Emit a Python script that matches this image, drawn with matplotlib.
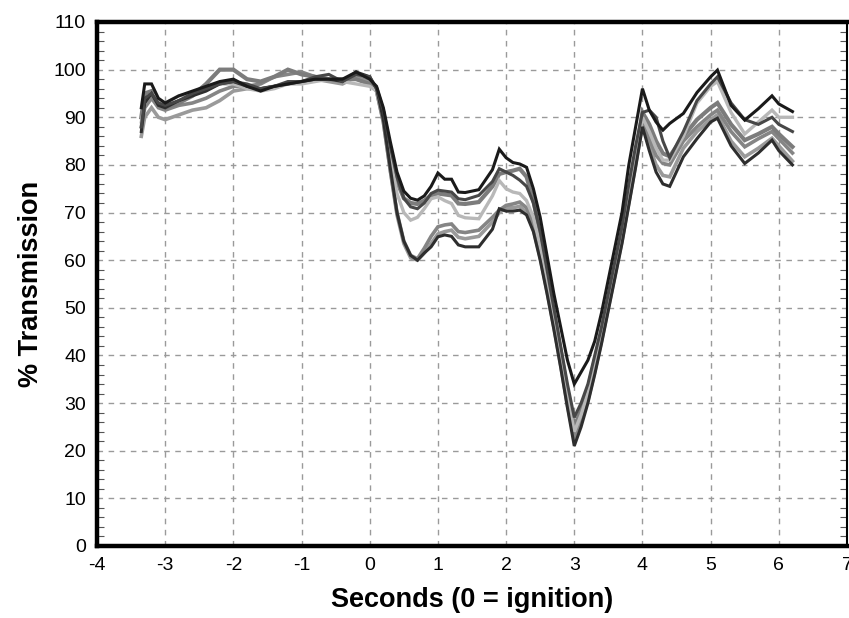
import matplotlib
matplotlib.use("Agg")
import matplotlib.pyplot as plt
from matplotlib.ticker import MultipleLocator

# ---- data ----
t = [-3.35, -3.3, -3.2, -3.1, -3.0, -2.8, -2.6, -2.4, -2.2, -2.0,
     -1.8, -1.6, -1.4, -1.2, -1.0, -0.8, -0.6, -0.4, -0.2, 0.0,
     0.1, 0.2, 0.3, 0.4, 0.5, 0.6, 0.7, 0.8, 0.9, 1.0,
     1.1, 1.2, 1.3, 1.4, 1.6, 1.8, 1.9, 2.0,
     2.1, 2.2, 2.3, 2.4, 2.5, 2.6, 2.7, 2.8, 2.9, 3.0,
     3.1, 3.2, 3.3, 3.4, 3.5, 3.6, 3.7, 3.8, 3.9, 4.0,
     4.1, 4.2, 4.3, 4.4, 4.6, 4.8, 5.0, 5.1, 5.3, 5.5, 5.7, 5.9, 6.0, 6.2]

run_a = [92, 97, 97, 94, 93, 94.5, 95.5, 96.5, 97.5, 98,
         96.5, 95.5, 96.5, 97, 97.5, 98, 98, 98, 99.5, 98,
         96.5, 92, 85, 78.5, 74.5, 73, 72.6, 73.5, 75.5, 78.3,
         77, 77, 74.3, 74.2, 74.8, 79, 83.3, 81.5,
         80.5, 80.2, 79.5, 75, 69, 61, 53, 46, 39, 34,
         36.5, 39, 43, 49, 56, 63, 70, 80, 88, 96,
         91.5, 89, 87.3, 88.7, 90.8, 95.2, 98.5, 99.9, 92.5, 89.4, 91.8, 94.5, 92.8, 91.2]

run_b = [88, 94, 95, 93, 92.5, 93.5, 95, 96, 97, 97.5,
         97, 96, 96.5, 97.5, 97.5, 98.5, 99, 97.5, 99, 98.5,
         96, 91.5, 84, 77.5, 73, 71.2, 70.8, 72, 74, 74.7,
         74.5, 74.3, 72.9, 72.7, 73.6, 76.5, 79.2, 78.5,
         77.8, 76.8, 75.5, 72, 66, 58, 50, 42, 34, 27,
         30, 34, 40, 46, 53, 60, 67, 76, 84, 91,
         91.5, 90, 85, 81.5, 87, 93.5, 97, 98.5, 93, 89.5, 88.5, 90, 88.5, 87]

run_c = [90, 95, 95.5, 93, 92, 93, 94.5, 97, 100, 100,
         98, 97.5, 98.5, 100, 99, 98.5, 98, 98, 98, 97,
         96, 91, 83, 76.5, 73, 72, 71.8, 72.5, 73.6, 74,
         73.8, 73.6, 71.9, 71.8, 72.2, 75.5, 78.1, 78.5,
         78.8, 79.2, 77.5, 72.5, 65.5, 57, 49, 41, 32.5, 25,
         28.5, 33, 39, 45, 52, 59, 66, 74, 82, 91,
         88.5, 85, 82.4, 81.8, 86, 89.5, 92, 93, 88.5, 85.2, 86.5, 88, 86.5, 83.8]

run_d = [89, 93, 95, 93.5, 93, 94.5, 95, 96, 97, 97,
         96, 95.5, 96, 97, 97, 97.5, 98, 97.5, 97, 96.5,
         95.5, 90, 81.5, 74, 70, 68.4, 69, 70.8, 72.9, 73.3,
         72.5, 71.9, 69.4, 68.9, 68.7, 73.5, 76.7, 75,
         74.3, 74, 72.5, 69, 63, 56, 48, 40, 31.5, 24,
         27.5, 32, 38, 44, 51, 58, 65, 73, 81, 90,
         87, 83.5, 81, 81, 86, 93, 96.5, 97.5, 91, 86.5, 89, 91.5, 90, 90]

run_e = [88, 92, 94, 92, 91.5, 92.5, 93, 94, 95.5, 96.5,
         96.5, 97, 98.5, 99, 99.5, 98.5, 98, 97.5, 99, 98,
         95.5, 89, 79, 70, 64, 61, 60.3, 62.5, 65, 67,
         67.4, 67.6, 66, 65.8, 66.3, 69, 70.5, 71.5,
         71.8, 72.2, 71, 67.5, 61.5, 54.5, 47, 39, 30.5, 23,
         26.5, 31, 37, 43.5, 50.5, 57.5, 64.5, 72.5, 80.5, 89,
         85.5, 82, 80.3, 80, 85, 88, 90.5, 91.5, 87, 83.8, 85.5, 87, 85.5, 82.5]

run_f = [86, 90, 92, 90, 89.5, 90.5, 91.5, 92, 93.5, 95.5,
         96, 96, 96.5, 97, 97.5, 98, 97.5, 97, 98.5, 97.5,
         95.5, 89, 79, 69.5, 63.5, 60.5, 60, 61.5, 63.5, 65.5,
         66, 66.3, 64.8, 64.5, 65, 68, 70, 71,
         71, 71.3, 70, 66.5, 60.5, 53.5, 46, 38, 29.5, 22.5,
         26, 30.5, 36.5, 43, 50, 57, 64, 72, 80, 88.5,
         84, 80, 77.8, 77.5, 83.5, 87, 89.5, 90.5, 85, 81.7, 83.5, 85.6, 84, 80.8]

run_g = [87, 93, 95, 92.5, 92, 93.5, 94.5, 95.5, 97, 97.5,
         96.5, 96, 96.5, 97, 97.5, 98, 98, 97.5, 99.5, 98.5,
         96, 89.5, 79.5, 70, 64, 61, 60, 61.5, 62.8, 64.9,
         65.3, 65, 63.2, 62.8, 62.8, 66.5, 70.8, 70.3,
         70.3, 70.5, 69.5, 66, 60, 53, 45.5, 37.5, 29, 21,
         25, 30, 36, 42.5, 49.5, 56.5, 63.5, 71.5, 79.5, 88,
         83, 78.5, 76, 75.5, 81.7, 85.5, 89, 89.8, 84, 80.3, 82.5, 85.2, 83, 80]

x_ticks = [-4, -3, -2, -1, 0, 1, 2, 3, 4, 5, 6, 7]
y_ticks = [0, 10, 20, 30, 40, 50, 60, 70, 80, 90, 100, 110]
x_label = "Seconds (0 = ignition)"
y_label = "% Transmission"

# ---- styling ----
series = [
    (run_f, "#9a9a9a", 2.6),
    (run_e, "#858585", 2.6),
    (run_c, "#7c7c7c", 3.0),
    (run_d, "#b8b8b8", 2.4),
    (run_g, "#2e2e2e", 2.2),
    (run_b, "#474747", 2.2),
    (run_a, "#1a1a1a", 2.2),
]

plt.rcParams["font.family"] = ["Liberation Sans", "DejaVu Sans"]
plt.rcParams["axes.unicode_minus"] = False

fig = plt.figure(figsize=(8.49, 6.18), dpi=100)
ax = fig.add_axes([97 / 849, 1 - 546 / 618, (847 - 97) / 849, (546 - 22) / 618])

for vals, col, lw in series:
    ax.plot(t, vals, color=col, lw=lw, solid_joinstyle="miter", zorder=3)

ax.set_xlim(-4, 7)
ax.set_ylim(0, 110)
ax.set_xticks(x_ticks)
ax.set_yticks(y_ticks)
ax.yaxis.set_minor_locator(MultipleLocator(2))

ax.grid(True, which="major", color="#9a9a9a", linestyle=(0, (4, 4)), linewidth=1.0, zorder=1)

for side in ["left", "bottom", "top"]:
    ax.spines[side].set_linewidth(3.2)
    ax.spines[side].set_color("black")
ax.spines["right"].set_linewidth(1.5)
ax.spines["right"].set_color("black")

ax.tick_params(axis="x", which="both", length=0, pad=8, labelsize=14)
ax.tick_params(axis="y", which="major", length=0, pad=8, labelsize=14)
ax.tick_params(axis="y", which="minor", direction="in", length=5, width=0.8,
               color="#555555", left=True, right=True)

ax.set_xlabel(x_label, fontsize=19.5, fontweight="bold", labelpad=9)
ax.set_ylabel(y_label, fontsize=19.5, fontweight="bold", labelpad=7)

fig.savefig("out.png", dpi=100)
